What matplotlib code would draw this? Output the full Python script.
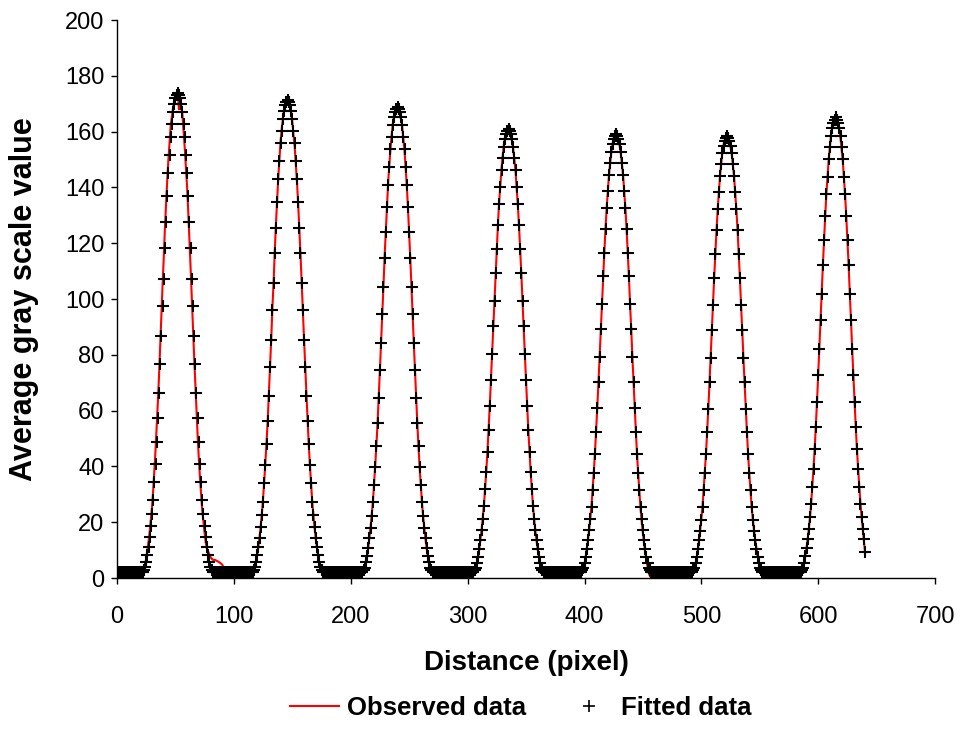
import numpy as np
import matplotlib
matplotlib.use("Agg")
import matplotlib.pyplot as plt
from matplotlib.lines import Line2D

plt.rcParams['font.family'] = ['Liberation Sans', 'DejaVu Sans']

# ---------------- data (one sample per pixel) -------------
distance = np.arange(0, 641)

# baselines (fitted)
fit_base0 = [2.0, 2.0, 2.0, 2.0, 2.0, 2.0, 2.0, 2.0, 2.0, 2.0, 2.0, 2.0, 2.0, 2.0, 2.0, 2.0, 2.0, 2.0, 2.0, 2.0, 2.0, 2.1]
fit_base1 = [2.1, 2.0, 2.0, 2.0, 2.0, 2.0, 2.0, 2.0, 2.0, 2.0, 2.0, 2.0, 2.0, 2.0, 2.0, 2.0, 2.0, 2.0, 2.0, 2.0, 2.0, 2.0, 2.0, 2.0, 2.0, 2.0, 2.0, 2.0, 2.0, 2.0, 2.0, 2.0, 2.1]
fit_base2 = [2.1, 2.0, 2.0, 2.0, 2.0, 2.0, 2.0, 2.0, 2.0, 2.0, 2.0, 2.0, 2.0, 2.0, 2.0, 2.0, 2.0, 2.0, 2.0, 2.0, 2.0, 2.0, 2.0, 2.0, 2.0, 2.0, 2.0, 2.0, 2.0, 2.0, 2.0, 2.0, 2.1]
fit_base3 = [2.1, 2.0, 2.0, 2.0, 2.0, 2.0, 2.0, 2.0, 2.0, 2.0, 2.0, 2.0, 2.0, 2.0, 2.0, 2.0, 2.0, 2.0, 2.0, 2.0, 2.0, 2.0, 2.0, 2.0, 2.0, 2.0, 2.0, 2.0, 2.0, 2.0, 2.0, 2.0, 2.0, 2.1]
fit_base4 = [2.1, 2.0, 2.0, 2.0, 2.0, 2.0, 2.0, 2.0, 2.0, 2.0, 2.0, 2.0, 2.0, 2.0, 2.0, 2.0, 2.0, 2.0, 2.0, 2.0, 2.0, 2.0, 2.0, 2.0, 2.0, 2.0, 2.0, 2.0, 2.0, 2.0, 2.1]
fit_base5 = [2.1, 2.0, 2.0, 2.0, 2.0, 2.0, 2.0, 2.0, 2.0, 2.0, 2.0, 2.0, 2.0, 2.0, 2.0, 2.0, 2.0, 2.0, 2.0, 2.0, 2.0, 2.0, 2.0, 2.0, 2.0, 2.0, 2.0, 2.0, 2.0, 2.0, 2.0, 2.0, 2.0, 2.1]
fit_base6 = [2.1, 2.0, 2.0, 2.0, 2.0, 2.0, 2.0, 2.0, 2.0, 2.0, 2.0, 2.0, 2.0, 2.0, 2.0, 2.0, 2.0, 2.0, 2.0, 2.0, 2.0, 2.0, 2.0, 2.0, 2.0, 2.0, 2.0, 2.0, 2.0, 2.0, 2.0, 2.1]

# baselines (observed)
obs_base0 = [2.0, 1.8, 2.2, 2.0, 1.9, 2.1, 2.0, 1.8, 2.0, 2.2, 2.1, 1.9, 2.0, 2.3, 2.1, 2.0, 2.2, 2.4, 2.3, 2.5, 2.4, 2.6]
obs_base1 = [6.5, 6.5, 6.2, 6.0, 5.8, 5.5, 5.2, 4.8, 4.0, 3.2, 2.5, 2.2, 2.0, 1.9, 2.1, 2.0, 1.8, 2.0, 2.2, 2.1, 1.9, 2.0, 2.1, 2.0, 1.8, 2.0, 2.2, 2.1, 2.0, 2.2, 2.3, 2.5, 2.4]
obs_base2 = [2.0, 1.9, 1.8, 2.0, 2.1, 1.9, 2.0, 2.2, 2.0, 1.8, 1.9, 2.0, 2.1, 2.0, 1.9, 2.0, 2.2, 2.1, 1.9, 2.0, 2.0, 1.8, 2.0, 2.1, 2.2, 2.0, 1.9, 2.0, 2.1, 2.0, 1.9, 2.0, 2.1]
obs_base3 = [2.0, 2.1, 2.0, 1.9, 2.0, 2.2, 2.1, 2.0, 1.8, 1.9, 2.0, 2.1, 2.2, 2.0, 1.9, 1.8, 2.0, 2.1, 2.0, 2.2, 2.1, 1.9, 2.0, 2.0, 1.8, 1.9, 2.0, 2.1, 2.0, 1.9, 2.0, 2.1, 2.0, 2.1]
obs_base4 = [1.0, 0.9, 0.8, 0.8, 0.7, 0.8, 0.9, 0.8, 0.7, 0.6, 0.5, 0.5, 0.6, 0.5, 0.4, 0.5, 0.4, 0.3, 0.4, 0.5, 0.4, 0.3, 0.3, 0.4, 0.5, 0.6, 0.5, 0.6, 0.7, 0.8, 1.0]
obs_base5 = [0.2, 0.1, 0.1, 0.2, 0.1, 0.2, 0.3, 0.2, 0.3, 0.5, 0.8, 1.2, 1.6, 1.9, 2.0, 2.1, 1.9, 2.0, 2.2, 2.0, 1.9, 2.0, 2.1, 2.0, 1.8, 2.0, 2.1, 2.0, 1.9, 2.0, 2.2, 2.1, 2.0, 2.1]
obs_base6 = [3.3, 3.2, 3.1, 3.0, 3.0, 2.9, 2.8, 2.6, 2.4, 2.2, 2.0, 1.9, 2.0, 2.1, 2.0, 1.9, 2.0, 2.1, 2.0, 1.8, 2.0, 2.1, 2.2, 2.0, 1.9, 2.0, 2.1, 2.0, 2.2, 2.1, 2.3, 2.2]

# peaks, fitted (x = centre-30 ... centre+30)
fit_peak1 = [2.2, 2.9, 3.8, 5.7, 8.2, 11.2, 14.6, 18.5, 22.8, 27.8, 34.4, 41.0, 48.6, 57.2, 66.4, 76.8, 86.6, 97.5, 107.3, 118.2,
             127.5, 136.8, 145.0, 151.7, 158.2, 162.8, 167.2, 170.0, 172.0, 173.2, 174.0,
             173.2, 172.0, 170.0, 167.2, 162.8, 158.2, 151.7, 145.0, 136.8, 127.5, 118.2, 107.3, 97.5, 86.6, 76.8, 66.4, 57.2, 48.6, 41.0,
             34.4, 27.8, 22.8, 18.5, 14.6, 11.2, 8.2, 5.7, 3.8, 2.9, 2.2]
fit_peak2 = [2.2, 2.9, 3.8, 5.6, 8.1, 11.1, 14.4, 18.3, 22.5, 27.4, 33.9, 40.4, 47.9, 56.4, 65.4, 75.7, 85.3, 96.1, 105.7, 116.5,
             125.6, 134.8, 142.9, 149.5, 155.9, 160.4, 164.7, 167.5, 169.5, 170.6, 171.4,
             170.6, 169.5, 167.5, 164.7, 160.4, 155.9, 149.5, 142.9, 134.8, 125.6, 116.5, 105.7, 96.1, 85.3, 75.7, 65.4, 56.4, 47.9, 40.4,
             33.9, 27.4, 22.5, 18.3, 14.4, 11.1, 8.1, 5.6, 3.8, 2.9, 2.2]
fit_peak3 = [2.2, 2.9, 3.7, 5.6, 8.0, 10.9, 14.2, 18.0, 22.2, 27.1, 33.5, 39.9, 47.2, 55.6, 64.5, 74.6, 84.1, 94.7, 104.2, 114.8,
             123.9, 132.9, 140.9, 147.4, 153.7, 158.1, 162.4, 165.1, 167.1, 168.2, 169.0,
             168.2, 167.1, 165.1, 162.4, 158.1, 153.7, 147.4, 140.9, 132.9, 123.9, 114.8, 104.2, 94.7, 84.1, 74.6, 64.5, 55.6, 47.2, 39.9,
             33.5, 27.1, 22.2, 18.0, 14.2, 10.9, 8.0, 5.6, 3.7, 2.9, 2.2]
fit_peak4 = [2.2, 2.8, 3.7, 5.4, 7.7, 10.5, 13.6, 17.2, 21.2, 25.8, 31.9, 38.0, 45.1, 53.0, 61.5, 71.1, 80.2, 90.2, 99.3, 109.4,
             118.0, 126.6, 134.1, 140.3, 146.3, 150.6, 154.6, 157.2, 159.1, 160.2, 160.9,
             160.2, 159.1, 157.2, 154.6, 150.6, 146.3, 140.3, 134.1, 126.6, 118.0, 109.4, 99.3, 90.2, 80.2, 71.1, 61.5, 53.0, 45.1, 38.0,
             31.9, 25.8, 21.2, 17.2, 13.6, 10.5, 7.7, 5.4, 3.7, 2.8, 2.2]
fit_peak5 = [2.2, 2.8, 3.6, 5.4, 7.7, 10.4, 13.5, 17.1, 21.0, 25.6, 31.6, 37.6, 44.5, 52.4, 60.8, 70.3, 79.2, 89.2, 98.1, 108.1,
             116.6, 125.1, 132.6, 138.7, 144.6, 148.8, 152.8, 155.4, 157.2, 158.3, 159.0,
             158.3, 157.2, 155.4, 152.8, 148.8, 144.6, 138.7, 132.6, 125.1, 116.6, 108.1, 98.1, 89.2, 79.2, 70.3, 60.8, 52.4, 44.5, 37.6,
             31.6, 25.6, 21.0, 17.1, 13.5, 10.4, 7.7, 5.4, 3.6, 2.8, 2.2]
fit_peak6 = [2.2, 2.8, 3.6, 5.4, 7.6, 10.4, 13.5, 17.0, 20.9, 25.5, 31.5, 37.5, 44.4, 52.2, 60.6, 70.1, 79.0, 88.9, 97.8, 107.7,
             116.2, 124.7, 132.1, 138.2, 144.1, 148.3, 152.3, 154.9, 156.7, 157.8, 158.5,
             157.8, 156.7, 154.9, 152.3, 148.3, 144.1, 138.2, 132.1, 124.7, 116.2, 107.7, 97.8, 88.9, 79.0, 70.1, 60.6, 52.2, 44.4, 37.5,
             31.5, 25.5, 20.9, 17.0, 13.5, 10.4, 7.6, 5.4, 3.6, 2.8, 2.2]
fit_peak7 = [2.2, 2.9, 3.7, 5.5, 7.9, 10.7, 13.9, 17.6, 21.7, 26.5, 32.7, 39.0, 46.2, 54.3, 63.1, 72.9, 82.2, 92.5, 101.8, 112.2,
             121.0, 129.8, 137.6, 143.9, 150.1, 154.4, 158.6, 161.3, 163.2, 164.3, 165.1,
             164.3, 163.2, 161.3, 158.6, 154.4, 150.1, 143.9, 137.6, 129.8, 121.0, 112.2, 101.8, 92.5, 82.2, 72.9, 63.1, 54.3, 46.2, 39.0,
             32.7, 26.5, 21.7, 17.6, 13.9, 9.5]

# peaks, observed
obs_peak1 = [2.5, 3.3, 4.7, 7.0, 10.0, 13.0, 16.7, 21.0, 25.6, 31.6, 38.8, 46.0, 54.3, 63.3, 72.8, 83.6, 93.7, 105.0, 114.6, 125.4,
             134.0, 142.7, 150.0, 156.4, 162.4, 165.5, 168.5, 171.0, 172.5, 173.5, 174.0,
             168.0, 171.5, 169.0, 166.0, 160.0, 154.0, 147.0, 140.0, 131.0, 121.0, 111.0, 100.0, 90.0, 79.5, 70.0, 60.0, 51.0, 43.0, 36.0,
             30.0, 24.0, 20.0, 16.0, 12.5, 10.5, 9.5, 8.5, 7.5, 7.0, 6.5]
obs_peak2 = [2.4, 3.0, 4.0, 5.9, 8.5, 11.4, 14.9, 18.8, 23.4, 28.6, 34.8, 41.6, 48.9, 57.0, 66.8, 76.5, 86.0, 97.2, 106.1, 117.3,
             126.9, 135.2, 143.6, 150.0, 156.8, 161.2, 165.0, 168.0, 170.0, 171.0, 171.6,
             170.4, 169.0, 166.8, 163.6, 158.9, 154.8, 148.4, 142.0, 134.1, 125.0, 116.1, 105.9, 96.6, 86.0, 76.3, 66.0, 57.3, 48.5, 40.8,
             34.2, 27.6, 22.7, 18.2, 14.3, 11.0, 8.0, 5.5, 3.7, 2.8, 2.1]
obs_peak3 = [2.0, 2.7, 3.6, 5.4, 7.9, 11.0, 14.6, 18.5, 22.9, 27.6, 34.0, 40.8, 48.0, 56.2, 65.4, 75.1, 84.9, 95.0, 104.8, 115.6,
             124.2, 133.4, 141.8, 148.0, 154.0, 158.7, 162.9, 165.6, 167.4, 168.6, 169.2,
             168.0, 166.6, 164.4, 161.8, 157.4, 153.2, 146.6, 140.3, 132.1, 123.0, 114.0, 103.6, 94.0, 83.6, 74.1, 64.0, 55.0, 46.6, 39.2,
             33.0, 26.6, 21.8, 17.6, 13.8, 10.5, 7.6, 5.2, 3.4, 2.6, 2.0]
obs_peak4 = [2.0, 2.6, 3.5, 5.2, 7.6, 10.6, 14.0, 17.6, 21.8, 26.4, 32.6, 38.6, 45.8, 53.9, 62.4, 71.8, 80.9, 91.0, 100.2, 110.1,
             118.6, 127.5, 135.0, 141.0, 146.8, 151.4, 155.3, 157.9, 159.8, 160.8, 161.5,
             160.0, 158.6, 156.5, 153.8, 149.9, 145.6, 139.4, 133.2, 125.9, 117.2, 108.6, 98.5, 89.4, 79.6, 70.4, 61.0, 52.4, 44.6, 37.4,
             31.4, 25.4, 20.8, 16.8, 13.2, 10.1, 7.3, 4.9, 3.0, 1.8, 1.2]
obs_peak5 = [1.2, 1.8, 3.0, 5.0, 7.6, 10.6, 13.9, 17.6, 21.7, 26.3, 32.2, 38.4, 45.4, 53.2, 61.7, 71.0, 80.0, 89.9, 98.8, 108.6,
             117.2, 125.6, 133.0, 139.1, 144.9, 149.1, 153.0, 155.7, 157.6, 158.8, 159.6,
             158.2, 156.9, 155.0, 152.4, 148.4, 144.3, 138.5, 132.4, 124.9, 116.4, 107.8, 97.8, 88.8, 78.8, 69.8, 60.3, 51.8, 43.8, 36.8,
             30.6, 24.5, 19.8, 15.8, 12.2, 9.0, 6.2, 3.8, 1.8, 0.6, 0.2]
obs_peak6 = [2.0, 2.6, 3.5, 5.2, 7.4, 10.3, 13.6, 17.4, 21.4, 26.0, 32.2, 38.3, 45.1, 53.0, 61.5, 70.9, 79.8, 89.7, 98.4, 108.4,
             116.8, 125.3, 132.6, 138.8, 144.6, 148.8, 152.8, 155.4, 157.1, 158.3, 159.0,
             157.6, 156.2, 154.3, 151.8, 147.7, 143.6, 137.6, 131.5, 124.0, 115.6, 107.0, 97.1, 88.2, 78.3, 69.5, 60.0, 51.8, 44.0, 37.2,
             31.2, 25.4, 21.0, 17.2, 13.8, 10.8, 8.0, 5.9, 4.3, 3.6, 3.4]
obs_peak7 = [2.4, 3.1, 4.0, 5.8, 8.2, 11.0, 14.3, 18.0, 22.3, 27.3, 33.5, 40.0, 47.1, 55.2, 64.0, 73.8, 83.0, 93.4, 102.6, 112.9,
             121.8, 130.4, 138.3, 144.5, 150.6, 155.0, 159.2, 162.0, 164.0, 165.2, 166.0,
             164.0, 162.6, 160.5, 157.6, 153.5, 149.2, 143.0, 136.8, 129.0, 120.4, 111.6, 101.4, 92.2, 82.0, 72.8, 63.2, 54.6, 46.7, 39.6,
             33.4, 27.2, 22.2, 17.8, 13.5, 9.0]

fitted = np.array(fit_base0 + fit_peak1 + fit_base1 + fit_peak2 + fit_base2 + fit_peak3 + fit_base3 + fit_peak4
                  + fit_base4 + fit_peak5 + fit_base5 + fit_peak6 + fit_base6 + fit_peak7)
observed = np.array(obs_base0 + obs_peak1 + obs_base1 + obs_peak2 + obs_base2 + obs_peak3 + obs_base3 + obs_peak4
                    + obs_base4 + obs_peak5 + obs_base5 + obs_peak6 + obs_base6 + obs_peak7)

x_ticks = [0, 100, 200, 300, 400, 500, 600, 700]
y_ticks = [0, 20, 40, 60, 80, 100, 120, 140, 160, 180, 200]

# ---------------- figure -------------
fig = plt.figure(figsize=(9.66, 7.5), dpi=100)
ax = fig.add_axes([0.1211, 0.2293, 0.847, 0.744])

ax.plot(distance, observed, color='#ff0000', lw=1.5, zorder=2)
ax.plot(distance, fitted, ls='none', marker='+', ms=8.5, mew=1.5, color='black', zorder=3)

ax.set_xlim(0, 700)
ax.set_ylim(0, 200)
ax.set_xticks(x_ticks)
ax.set_yticks(y_ticks)
for s in ['top', 'right']:
    ax.spines[s].set_visible(False)
for s in ['left', 'bottom']:
    ax.spines[s].set_linewidth(1.0)
ax.tick_params(axis='both', direction='out', length=4, width=1.0, labelsize=17)
ax.tick_params(axis='x', pad=16)
ax.tick_params(axis='y', pad=5)

ax.set_xlabel('Distance (pixel)', fontsize=20, fontweight='bold')
ax.set_ylabel('Average gray scale value', fontsize=22, fontweight='bold')
ax.xaxis.set_label_coords(0.5, -0.129)
ax.yaxis.set_label_coords(-0.095, 0.5)

handles = [Line2D([], [], color='#ff0000', lw=1.5),
           Line2D([], [], ls='none', marker='+', ms=8, mew=1.2, color='black')]
fig.legend(handles, ['Observed data', 'Fitted data'], loc='center', bbox_to_anchor=(0.539, 0.056),
           ncol=2, frameon=False, prop={'weight': 'bold', 'size': 18.5},
           handlelength=1.9, handletextpad=0.3, columnspacing=1.5)

fig.savefig('out.png', dpi=100)
